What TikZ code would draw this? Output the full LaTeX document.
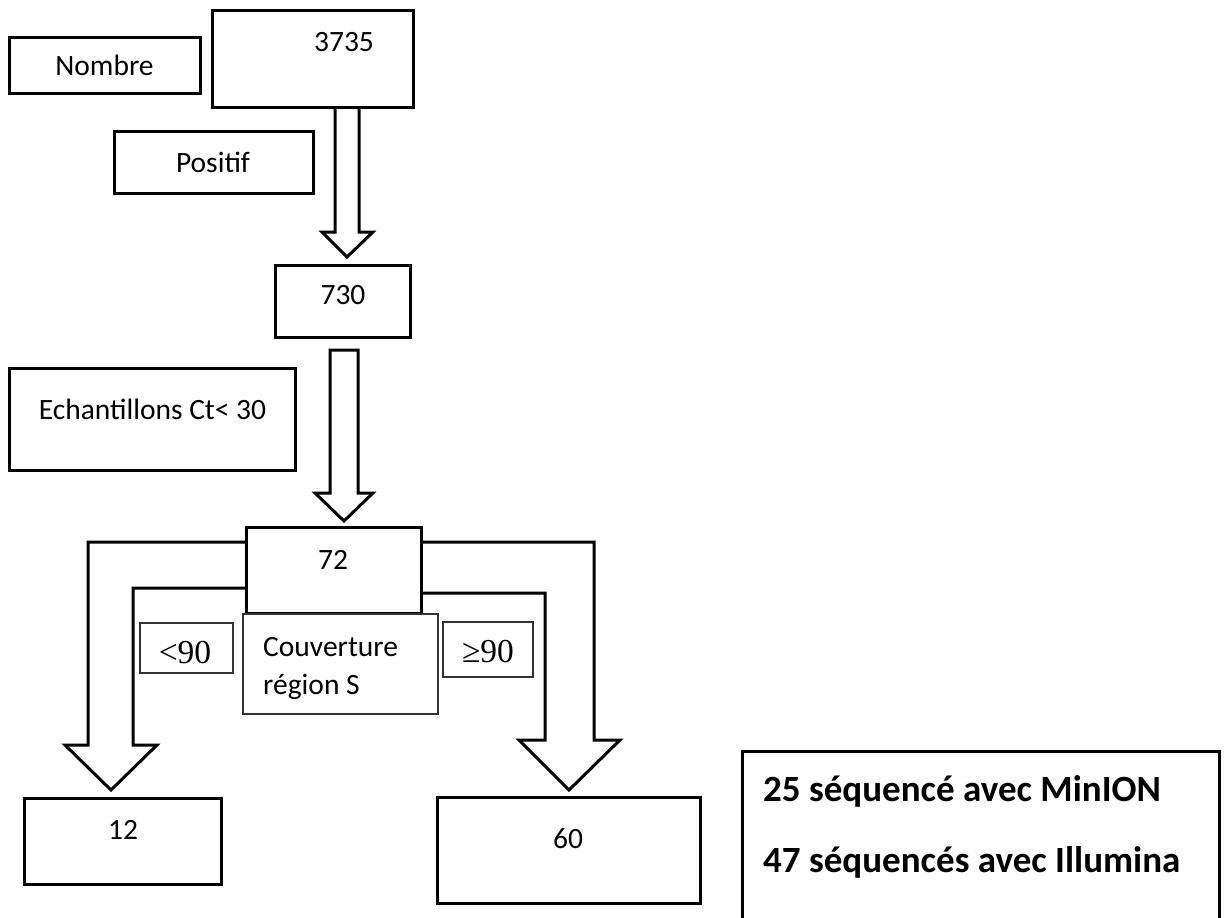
\documentclass[tikz,border=0pt]{standalone}
\usepackage{fontspec}
\setmainfont{Carlito}
\newfontfamily\serifnum{Liberation Serif}
\usetikzlibrary{fit}

% a box given by two opposite corners
\newcommand{\cornerbox}[4]{\node[#1, fit={#3 #4}] (#2) {};}

\begin{document}
\begin{tikzpicture}[x=1pt, y=-1pt,
  box/.style={draw=black, line width=3pt, fill=white, inner sep=0pt},
  thinbox/.style={draw=black!80, line width=1.3pt, fill=white, inner sep=0pt},
  blockarrow/.style={draw=black, line width=3pt, fill=white, line join=miter},
  txt/.style={inner sep=0pt, text height=19pt, text depth=0pt,
              font=\fontsize{29.5}{35}\selectfont},
  cmp/.style={inner sep=0pt, text height=22pt, text depth=0pt,
              font=\serifnum\fontsize{33.5}{40}\selectfont},
  bold/.style={inner sep=0pt, text height=23.8pt, text depth=0pt, anchor=west,
               font=\bfseries\fontsize{37}{44}\selectfont}]

\useasboundingbox (0,0) rectangle (1224,918);
\clip (0,0) rectangle (1224,918);

% ---- block arrows (drawn first, boxes sit on top of their open ends)
\draw[blockarrow] (335,107) -- (335,232) -- (322,232) -- (347,257)
  -- (373,232) -- (359,232) -- (359,107) -- cycle;
\draw[blockarrow] (330,350) -- (330,493) -- (315,493) -- (344,521)
  -- (373,493) -- (358,493) -- (358,350) -- cycle;
% left branch (< 90)
\draw[blockarrow] (250,542) -- (88,542) -- (88,745) -- (65,745) -- (111,790)
  -- (157,745) -- (133,745) -- (133,588) -- (250,588);
% right branch (>= 90)
\draw[blockarrow] (417,542) -- (594,542) -- (594,740) -- (620,740) -- (569,790)
  -- (519,740) -- (545,740) -- (545,593) -- (417,593);

% ---- boxes
\cornerbox{box}{nombre}{(9,37)}{(200,93)}
\cornerbox{box}{total}{(212,10)}{(413,107)}
\cornerbox{box}{positif}{(114,131)}{(313,193)}
\cornerbox{box}{pos}{(275,265)}{(410,337)}
\cornerbox{box}{ech}{(9,368)}{(295,470)}
\cornerbox{box}{sel}{(246,527)}{(421,613)}
\cornerbox{thinbox}{couv}{(243,614)}{(438,714)}
\cornerbox{thinbox}{low}{(140,623)}{(233,673)}
\cornerbox{thinbox}{high}{(443,622)}{(533,677)}
\cornerbox{box}{lowres}{(24,798)}{(221,884)}
\cornerbox{box}{highres}{(437,797)}{(700,903)}
\cornerbox{box}{seq}{(742,751)}{(1219,940)}

% ---- texts
\node[txt] (tnombre) at (104.5,66) {Nombre};
\node[txt] (ttotal) at (344,41.5) {3735};
\node[txt] (tpositif) at (213,163) {Positif};
\node[txt] (tpos) at (343,295) {730};
\node[txt] (tech) at (152.5,410) {Echantillons Ct< 30};
\node[txt] (tsel) at (333,560) {72};
\node[txt, anchor=west] (tcouv1) at (263,647) {Couverture};
\node[txt, anchor=west] (tcouv2) at (263,685) {région S};
\node[cmp] (tlow) at (185,652) {<90};
\node[cmp] (thigh) at (488,651) {≥90};
\node[txt] (tlowres) at (123,830) {12};
\node[txt] (thighres) at (568,839) {60};
\node[bold] (tseq1) at (763,790) {25 séquencé avec MinION};
\node[bold] (tseq2) at (763,861) {47 séquencés avec Illumina};
\end{tikzpicture}
\end{document}
